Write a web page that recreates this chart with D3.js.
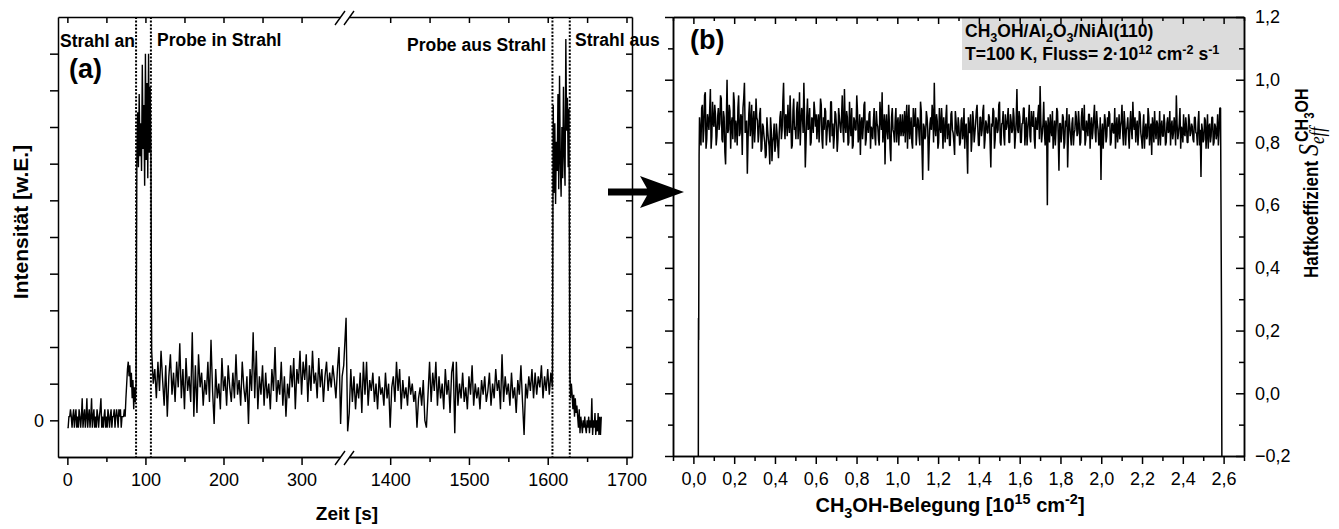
<!DOCTYPE html>
<meta charset="utf-8">
<head>
<script src="https://d3js.org/d3.v7.min.js"></script>
<style>
  body { margin: 0; background: #fff; }
  svg { display: block; }
</style>
</head>
<body>
<div id="chart"></div>
<script>
// ---------- panel (a): intensity vs time, in units of one y tick ----------
var aBaseStart = 0;      // s, 1 s steps
var aBase = [-0.2,-0.2,0.1,0.1,0.3,0.1,-0.2,0.1,0.3,-0.2,
             0.1,0.3,-0.2,0.1,-0.2,0.3,0.1,-0.2,0.1,0.6,
             -0.2,0.1,0.3,-0.2,0.1,0.6,-0.2,0.1,0.3,-0.2,
             0.1,0.6,-0.2,0.1,0.3,-0.2,0.1,-0.2,0.3,0.1,
             -0.2,0.1,0.3,0.6,-0.2,0.1,-0.2,0.1,0.3,-0.2,
             0.1,-0.2,0.3,0.1,-0.2,0.1,0.3,-0.2,0.1,0.1,
             0.3,-0.2,0.1,0.3,0.1,-0.2,0.3,0.1,0.3,-0.2,
             0.1,0.1];
var aRiseStart = 72;     // 1 s steps
var aRise = [0.1,0.3,0.1,0.6,1.0,1.4,1.6,1.2,1.5,0.9,1.3,0.6,1.1,0.3,0.9,0.5,1.0];
var aBeamStart = 89;     // 1 s steps
var aBeam = [7.0,8.4,6.9,8.9,7.2,8.1,6.8,9.7,7.4,8.6,6.4,10.0,7.1,9.2,6.6,10.0,7.3,9.1,7.3];
var aSignalStart = 108;  // 2 s steps
var aSignal = [1.9,1.0,1.4,0.6,1.6,0.8,1.9,1.1,0.4,1.5,
               0.1,1.2,1.8,0.7,1.3,0.5,1.6,0.9,2.1,0.6,
               1.4,0.3,1.7,0.8,1.2,0.5,2.4,0.1,1.5,0.2,
               1.8,0.9,1.3,0.4,1.1,0.7,1.6,0.5,2.2,0.8,
               -0.1,1.4,0.6,1.0,0.3,1.7,0.8,1.2,0.4,1.5,
               0.9,0.5,1.3,0.6,1.8,0.7,1.1,0.4,1.6,0.9,
               0.5,1.2,-0.1,1.4,0.8,2.4,0.6,1.9,0.3,1.2,
               0.7,1.5,0.4,1.3,0.6,1.0,0.3,1.4,0.8,2.0,
               0.5,1.1,0.7,1.6,0.4,1.2,0.1,1.0,0.6,1.5,
               0.9,1.7,0.3,1.4,1.0,1.9,0.7,1.6,1.1,1.8,
               0.5,1.5,0.8,1.9,1.0,1.3,0.6,1.7,0.9,1.4,
               0.5,1.2,1.6,0.8,1.3,0.9,1.5,1.1,0.6,1.4,
               2.0,-0.1,1.2,1.5];
var aSignal2Start = 1344; // 2 s steps
var aSignal2 = [2.8,-0.3,0.2,1.4,0.5,1.2,0.3,1.0,0.6,1.3,
                0.2,1.6,0.7,1.6,0.4,1.1,0.8,1.3,0.5,1.0,
                0.3,1.2,0.7,0.9,0.4,1.3,0.6,1.0,-0.2,0.9,
                1.2,0.5,1.6,0.8,1.4,0.3,1.1,0.6,0.9,0.4,
                1.2,0.7,1.0,0.5,0.8,-0.2,0.6,0.9,0.4,1.1,
                0.0,-0.2,0.7,1.6,0.5,1.3,0.8,1.6,0.4,1.2,
                0.6,1.0,0.3,1.4,0.7,1.1,0.2,1.3,1.6,-0.35,
                1.6,0.4,1.0,0.6,1.3,0.5,0.9,0.3,1.2,0.7,
                1.5,0.4,1.0,0.6,0.9,0.3,1.1,0.7,1.2,0.5,
                0.8,1.3,0.4,1.0,0.6,1.4,0.8,1.1,0.3,1.8,
                0.5,1.2,0.7,1.0,0.4,1.3,0.6,0.9,0.2,1.1,
                0.7,1.5,0.5,-0.4,1.0,0.6,1.2,0.8,1.4,0.6,
                1.3,0.7,1.2,0.9,1.5,0.6,1.2,0.8,1.4,0.7,
                1.3,0.9];
var aBeam2Start = 1607;  // 1 s steps
var aBeam2 = [8.6,6.2,8.1,5.9,7.6,6.8,8.9,6.3,9.4,7.0,6.1,8.0,6.6,9.1,7.2,6.4,10.4,7.9,8.8,6.9,8.5];
var aTailStart = 1628;   // 1 s steps
var aTail = [1.4,0.6,1.0,0.7,0.3,0.7,0.1,0.6,0.2,0.4,0.1,-0.2,0.3,-0.35,0.1,-0.1,-0.35,0.0,-0.2,0.1,
             -0.2,-0.35,0.0,-0.2,0.1,-0.35,0.0,-0.2,0.6,-0.4,0.0,-0.2,0.2,-0.4,0.0,-0.3,0.2,-0.4,0.1,-0.4,0.1];
var aMarkers = [88, 107, 1606, 1628];

var aXMajor = [0, 100, 200, 300, 1400, 1500, 1600, 1700];
var aXMinor = [50, 150, 250, 1450, 1550, 1650];
var aYTicks = [0, 1, 2, 3, 4, 5, 6, 7, 8, 9, 10];

// ---------- panel (b): sticking coefficient vs coverage ----------
var bLeadX = [0.024, 0.025, 0.026, 0.028];
var bLeadY = [-0.3, 0.24, 0.17, 0.76];
var bNoiseX0 = 0.03, bNoiseX1 = 2.585;
// even samples (x 100)
var bNoise = [88,79,92,84,96,81,87,90,78,93,85,89,82,91,86,94,80,88,73,100,
              84,90,86,81,93,87,79,95,83,88,91,99,85,70,89,82,92,86,80,94,
              87,83,91,78,85,80,76,84,79,88,74,82,77,86,79,83,90,84,99,81,
              88,92,83,87,79,94,85,90,81,96,86,89,99,72,88,84,91,80,87,93,
              85,81,89,86,92,78,84,90,83,87,80,93,86,82,89,77,91,85,88,84,
              97,83,88,80,86,91,79,87,84,90,82,76,88,85,93,81,86,89,78,84,
              87,82,90,85,79,88,96,84,73,89,81,86,74,91,83,87,80,88,85,82,
              89,84,80,92,86,81,88,78,85,91,83,87,79,90,68,85,82,88,71,86,
              84,89,99,82,87,80,85,91,78,84,88,81,86,79,90,83,76,87,82,85,
              80,88,83,78,86,70,84,89,81,87,83,90,85,79,88,84,92,81,86,83,
              88,72,85,90,81,87,84,93,79,86,82,89,85,91,80,87,84,88,82,97,
              83,88,80,86,91,84,79,87,82,90,85,81,88,84,92,98,80,86,83,87,
              60,85,89,82,78,87,84,90,71,86,83,88,80,85,72,89,82,86,79,84,
              88,83,86,80,91,84,79,87,82,89,85,81,88,83,90,84,80,68,86,83,
              87,82,85,89,80,86,83,78,88,84,81,87,83,90,79,85,82,86,84,93,
              84,80,87,83,89,81,85,78,86,82,88,84,76,85,90,81,86,83,79,87,
              82,86,80,88,84,79,87,83,85,95,81,86,78,84,89,82,85,80,87,83,
              85,80,88,83,86,79,69,84,81,87,83,78,86,82,88,80,85,83,79,91];
// odd samples (x 100)
var bNoise2 = [83,91,80,95,78,89,84,97,82,86,92,79,88,84,95,81,90,77,87,83,
               92,78,88,96,80,85,91,82,89,76,94,83,87,81,93,86,78,90,85,88,
               80,89,77,86,82,75,88,81,73,84,80,86,79,83,75,88,81,93,85,89,
               82,86,95,78,90,84,81,93,86,79,91,83,88,80,94,85,79,88,83,90,
               89,86,80,94,81,88,91,79,87,84,93,82,78,90,85,81,88,83,95,80,
               86,90,79,93,82,78,88,84,95,80,89,86,81,92,79,87,83,90,85,81,
               91,79,86,81,93,84,80,89,86,83,92,78,88,84,80,91,86,79,89,84,
               82,90,87,78,92,84,80,91,86,79,88,82,93,78,86,81,90,84,80,88,
               92,80,85,89,78,91,83,86,88,80,92,85,79,89,84,80,90,83,88,79,
               87,81,91,85,79,88,83,77,90,80,86,92,79,88,82,90,78,87,83,89,
               80,86,91,78,88,83,92,80,86,90,79,84,88,80,89,83,91,78,87,84,
               90,80,86,91,79,88,84,92,80,86,90,78,85,89,81,87,83,93,79,85,
               88,80,84,90,83,79,91,82,86,80,89,78,87,91,82,85,79,88,83,90,
               82,90,79,88,84,92,81,85,89,78,88,84,92,80,86,79,88,83,78,89,
               80,88,90,79,86,83,91,84,80,89,85,92,79,86,84,88,78,90,81,86,
               88,85,79,90,83,78,89,84,81,91,79,86,88,80,84,87,79,90,85,82,
               89,79,86,83,90,85,81,88,79,86,83,91,85,80,83,88,80,89,82,86,
               81,88,83,79,90,84,86,80,88,78,89,85,80,88,79,86,81,89,84,91];
var bTailX = [2.59, 2.591, 2.592];
var bTailY = [0.2, -0.1, -0.3];

var bXMajor = [0, 0.2, 0.4, 0.6, 0.8, 1.0, 1.2, 1.4, 1.6, 1.8, 2.0, 2.2, 2.4, 2.6];
var bXMinor = [-0.1, 0.1, 0.3, 0.5, 0.7, 0.9, 1.1, 1.3, 1.5, 1.7, 1.9, 2.1, 2.3, 2.5, 2.7];
var bYMajor = [-0.2, 0, 0.2, 0.4, 0.6, 0.8, 1.0, 1.2];
var bYMinor = [-0.1, 0.1, 0.3, 0.5, 0.7, 0.9, 1.1];

// ---------- setup ----------
var width = 1339, height = 529;
var sans = '"Liberation Sans", Arial, Helvetica, sans-serif';
var serif = '"Liberation Serif", "Times New Roman", serif';

var svg = d3.select("#chart").append("svg")
    .attr("width", width)
    .attr("height", height)
    .attr("font-family", sans);

function seg(start, step, vals) {
    return vals.map(function(v, i) { return [start + i * step, v]; });
}

function comma(d) {
    return d3.format(".1f")(d).replace(".", ",");
}

function styleAxis(g, fs) {
    g.select(".domain").attr("stroke", "#000").attr("stroke-width", 1.5);
    g.selectAll(".tick line").attr("stroke", "#000").attr("stroke-width", 1.5);
    g.selectAll(".tick text").attr("fill", "#000")
        .attr("font-size", fs || 18).attr("font-family", sans);
}

// rich text with sub / superscripts
function rich(sel, parts, fs, supShift) {
    var shift = 0;
    var up = supShift || 0.42;
    parts.forEach(function(p) {
        var target = p.sub ? fs * 0.3 : (p.sup ? -fs * up : 0);
        var ts = sel.append("tspan").text(p.t).attr("dy", target - shift);
        if (p.sub || p.sup) ts.attr("font-size", fs * 0.72);
        shift = target;
    });
}

// ================= panel (a) =================
var xa = d3.scaleLinear().domain([-12, 355, 1342, 1707]).range([58, 344.5, 344.5, 632]);
var ya = d3.scaleLinear().domain([-1, 11]).range([457, 17]);

var aData = [].concat(
    seg(aBaseStart, 1, aBase),
    seg(aRiseStart, 1, aRise),
    seg(aBeamStart, 1, aBeam),
    seg(aSignalStart, 2, aSignal),
    seg(aSignal2Start, 2, aSignal2),
    seg(aBeam2Start, 1, aBeam2),
    seg(aTailStart, 1, aTail)
);

svg.append("path")
    .datum(aData)
    .attr("fill", "none")
    .attr("stroke", "#000")
    .attr("stroke-width", 1.4)
    .attr("d", d3.line().x(function(d) { return xa(d[0]); }).y(function(d) { return ya(d[1]); }));

// marker lines
svg.selectAll(".marker")
    .data(aMarkers)
    .enter().append("line")
    .attr("x1", function(d) { return xa(d); })
    .attr("x2", function(d) { return xa(d); })
    .attr("y1", ya(11))
    .attr("y2", ya(-1))
    .attr("stroke", "#000")
    .attr("stroke-width", 2)
    .attr("stroke-dasharray", "2,1.6");

// axes
var gax = svg.append("g").attr("transform", "translate(0," + ya(-1) + ")")
    .call(d3.axisBottom(xa).tickValues(aXMajor).tickSize(8).tickSizeOuter(0).tickPadding(8).tickFormat(d3.format("d")));
styleAxis(gax);
var gax2 = svg.append("g").attr("transform", "translate(0," + ya(-1) + ")")
    .call(d3.axisBottom(xa).tickValues(aXMinor).tickSize(5).tickSizeOuter(0).tickFormat(""));
styleAxis(gax2);
var gaxt = svg.append("g").attr("transform", "translate(0," + ya(11) + ")")
    .call(d3.axisBottom(xa).tickValues(aXMajor.concat(aXMinor)).tickSize(6).tickSizeOuter(0).tickFormat(""));
styleAxis(gaxt);
var gay = svg.append("g").attr("transform", "translate(" + xa(-12) + ",0)")
    .call(d3.axisLeft(ya).tickValues(aYTicks).tickSize(8).tickSizeOuter(0).tickPadding(6)
        .tickFormat(function(d) { return d === 0 ? "0" : ""; }));
styleAxis(gay);
var gayr = svg.append("g").attr("transform", "translate(" + xa(1707) + ",0)")
    .call(d3.axisLeft(ya).tickValues(aYTicks).tickSize(6).tickSizeOuter(0).tickFormat(""));
styleAxis(gayr);

// axis break marks
[ya(-1), ya(11)].forEach(function(yy) {
    var bx = xa(355);
    svg.append("rect").attr("x", bx - 4).attr("y", yy - 2).attr("width", 9).attr("height", 4).attr("fill", "#fff");
    [-4.5, 4.5].forEach(function(off) {
        svg.append("line")
            .attr("x1", bx + off - 5).attr("y1", yy + 8)
            .attr("x2", bx + off + 5).attr("y2", yy - 6)
            .attr("stroke", "#000").attr("stroke-width", 1.4);
    });
});

// annotations
var notes = [
    {t: "Strahl an", x: 60, y: 47},
    {t: "Probe in Strahl", x: 157, y: 46},
    {t: "Probe aus Strahl", x: 407, y: 51},
    {t: "Strahl aus", x: 575, y: 46}
];
svg.selectAll(".note").data(notes).enter().append("text")
    .attr("x", function(d) { return d.x; })
    .attr("y", function(d) { return d.y; })
    .attr("font-size", 17.5).attr("font-weight", "bold")
    .text(function(d) { return d.t; });

svg.append("text").attr("x", 69).attr("y", 78).attr("font-size", 27).attr("font-weight", "bold").text("(a)");

svg.append("text").attr("x", 347).attr("y", 520).attr("text-anchor", "middle")
    .attr("font-size", 19).attr("font-weight", "bold").text("Zeit [s]");
svg.append("text").attr("transform", "translate(28,222) rotate(-90)").attr("text-anchor", "middle")
    .attr("font-size", 21).attr("font-weight", "bold").text("Intensität [w.E.]");

// arrow between panels
svg.append("path")
    .attr("d", "M608,188.5 L647,188.5 L640,176 L684,192 L640,208 L647,195.5 L608,195.5 Z")
    .attr("fill", "#000");

// ================= panel (b) =================
var xb = d3.scaleLinear().domain([-0.1, 2.7]).range([673, 1244]);
var yb = d3.scaleLinear().domain([-0.2, 1.2]).range([456, 17]);

svg.append("clipPath").attr("id", "clipb").append("rect")
    .attr("x", xb(-0.1)).attr("y", yb(1.2))
    .attr("width", xb(2.7) - xb(-0.1)).attr("height", yb(-0.2) - yb(1.2));

var bData = [];
bLeadX.forEach(function(x, i) { bData.push([x, bLeadY[i]]); });
var nB = bNoise.length * 2;
var dxB = (bNoiseX1 - bNoiseX0) / (nB - 1);
bNoise.forEach(function(v, i) {
    bData.push([bNoiseX0 + (2 * i) * dxB, v / 100]);
    bData.push([bNoiseX0 + (2 * i + 1) * dxB, bNoise2[i] / 100]);
});
bTailX.forEach(function(x, i) { bData.push([x, bTailY[i]]); });

// annotation box (behind data)
svg.append("rect").attr("x", 962).attr("y", 18).attr("width", 1244 - 962).attr("height", 52)
    .attr("fill", "#dcdcdc");

svg.append("path")
    .datum(bData)
    .attr("clip-path", "url(#clipb)")
    .attr("fill", "none")
    .attr("stroke", "#000")
    .attr("stroke-width", 1.5)
    .attr("stroke-linejoin", "bevel")
    .attr("d", d3.line().x(function(d) { return xb(d[0]); }).y(function(d) { return yb(d[1]); }));

var gbx = svg.append("g").attr("transform", "translate(0," + yb(-0.2) + ")")
    .call(d3.axisBottom(xb).tickValues(bXMajor).tickSize(8).tickSizeOuter(0).tickPadding(8).tickFormat(comma));
styleAxis(gbx);
var gbx2 = svg.append("g").attr("transform", "translate(0," + yb(-0.2) + ")")
    .call(d3.axisBottom(xb).tickValues(bXMinor).tickSize(5).tickSizeOuter(0).tickFormat(""));
styleAxis(gbx2);
var gbt = svg.append("g").attr("transform", "translate(0," + yb(1.2) + ")")
    .call(d3.axisBottom(xb).tickValues(bXMajor).tickSize(7).tickSizeOuter(0).tickFormat(""));
styleAxis(gbt);
var gbt2 = svg.append("g").attr("transform", "translate(0," + yb(1.2) + ")")
    .call(d3.axisBottom(xb).tickValues(bXMinor).tickSize(4).tickSizeOuter(0).tickFormat(""));
styleAxis(gbt2);
var gbl = svg.append("g").attr("transform", "translate(" + xb(-0.1) + ",0)")
    .call(d3.axisLeft(yb).tickValues(bYMajor).tickSize(8).tickSizeOuter(0).tickFormat(""));
styleAxis(gbl);
var gbl2 = svg.append("g").attr("transform", "translate(" + xb(-0.1) + ",0)")
    .call(d3.axisLeft(yb).tickValues(bYMinor).tickSize(5).tickSizeOuter(0).tickFormat(""));
styleAxis(gbl2);
var gbr = svg.append("g").attr("transform", "translate(" + xb(2.7) + ",0)")
    .call(d3.axisRight(yb).tickValues(bYMajor).tickSize(-8).tickSizeOuter(0).tickPadding(11).tickFormat(comma));
styleAxis(gbr);
var gbr2 = svg.append("g").attr("transform", "translate(" + xb(2.7) + ",0)")
    .call(d3.axisRight(yb).tickValues(bYMinor).tickSize(-5).tickSizeOuter(0).tickFormat(""));
styleAxis(gbr2);

svg.append("text").attr("x", 690).attr("y", 49).attr("font-size", 27).attr("font-weight", "bold").text("(b)");

// box text
var bt1 = svg.append("text").attr("x", 965).attr("y", 37).attr("font-size", 17.5).attr("font-weight", "bold");
rich(bt1, [{t: "CH"}, {t: "3", sub: true}, {t: "OH/Al"}, {t: "2", sub: true}, {t: "O"}, {t: "3", sub: true}, {t: "/NiAl(110)"}], 17.5);
var bt2 = svg.append("text").attr("x", 965).attr("y", 60).attr("font-size", 17.5).attr("font-weight", "bold");
rich(bt2, [{t: "T=100 K, Fluss= 2\u00b710"}, {t: "12", sup: true}, {t: " cm"}, {t: "-2", sup: true}, {t: " s"}, {t: "-1", sup: true}], 17.5, 0.36);

// x title (b)
var bxt = svg.append("text").attr("x", 950).attr("y", 512).attr("text-anchor", "middle")
    .attr("font-size", 20).attr("font-weight", "bold");
rich(bxt, [{t: "CH"}, {t: "3", sub: true}, {t: "OH-Belegung [10"}, {t: "15", sup: true}, {t: " cm"}, {t: "-2", sup: true}, {t: "]"}], 20);

// y title (b), rotated, on the right (glyphs drawn a little wider across)
var gT = svg.append("g").attr("transform", "translate(1318,278) rotate(-90) scale(1,1.2)");
var t1 = gT.append("text").attr("font-size", 17).attr("font-weight", "bold").text("Haftkoeffizient");
var w1 = t1.node().getComputedTextLength();
var tS = gT.append("text").attr("x", w1 + 5).attr("font-family", serif).attr("font-style", "italic")
    .attr("font-size", 24).text("S");
var wS = tS.node().getComputedTextLength();
gT.append("text").attr("x", w1 + 5 + wS).attr("y", 5).attr("font-family", serif).attr("font-style", "italic")
    .attr("font-size", 17).text("eff");
var tC = gT.append("text").attr("x", w1 + 5 + wS + 2).attr("y", -8).attr("font-size", 16).attr("font-weight", "bold");
rich(tC, [{t: "CH"}, {t: "3", sub: true}, {t: "OH"}], 16);
</script>
</body>
